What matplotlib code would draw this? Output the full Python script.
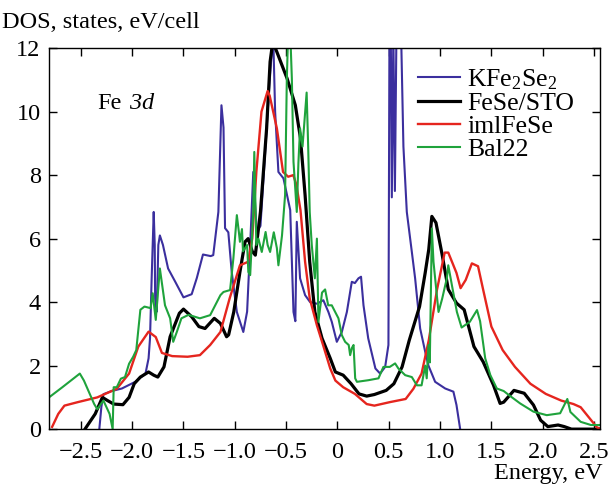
import matplotlib
matplotlib.use('Agg')
import matplotlib.pyplot as plt

plt.rcParams['font.family'] = ['Liberation Serif', 'DejaVu Serif']
plt.rcParams['mathtext.fontset'] = 'custom'
plt.rcParams['mathtext.rm'] = 'Liberation Serif'
plt.rcParams['mathtext.it'] = 'Liberation Serif:italic'

# KFe2Se2 (blue)
kfe_x = [-2.32, -2.30, -2.28, -2.20, -2.10, -1.97, -1.87, -1.84, -1.826, -1.81, -1.79, -1.78,
         -1.776, -1.76, -1.745, -1.73, -1.70, -1.65, -1.58, -1.50, -1.42, -1.37, -1.31, -1.235,
         -1.21, -1.16, -1.13, -1.11, -1.095, -1.063, -1.03, -0.98, -0.917, -0.88, -0.85, -0.82,
         -0.786, -0.75, -0.72, -0.67, -0.64, -0.625, -0.607, -0.575, -0.526, -0.46, -0.428, -0.41,
         -0.396, -0.364, -0.315, -0.266, -0.20, -0.137, -0.088, -0.055, -0.006, 0.043, 0.092, 0.14,
         0.17, 0.205, 0.23, 0.254, 0.30, 0.37, 0.416, 0.465, 0.497, 0.507, 0.52, 0.53, 0.545, 0.56,
         0.575, 0.62, 0.643, 0.676, 0.725, 0.757, 0.806, 0.855, 0.887, 0.952, 1.05, 1.13, 1.16, 1.196]
kfe_y = [0.0, 0.7, 1.1, 1.2, 1.28, 1.49, 1.75, 2.23, 2.86, 4.75, 6.84, 5.8,
         4.1, 3.7, 5.8, 6.1, 5.8, 5.06, 4.64, 4.15, 4.25, 4.76, 5.5, 5.45,
         5.48, 6.84, 10.2, 9.5, 6.33, 6.2, 4.95, 3.69, 3.06, 3.7, 5.8, 8.1,
         6.21, 6.4, 7.9, 10.5, 11.88, 12.3, 10.0, 8.1, 7.9, 6.9, 3.69, 3.4,
         6.53, 4.75, 4.22, 4.0, 3.95, 4.06, 3.69, 3.38, 2.75, 3.06, 3.69, 4.64,
         4.6, 4.75, 4.8, 3.9, 2.86, 1.91, 1.75, 1.96, 2.65, 12.5, 12.5, 7.3, 12.5, 7.5,
         12.5, 12.5, 8.9, 6.84, 5.58, 4.75, 3.17, 2.44, 2.0, 1.49, 1.28, 1.18, 0.76, 0.0]

# FeSe/STO (black)
sto_x = [-2.46, -2.36, -2.29, -2.24, -2.18, -2.09, -2.03, -1.98, -1.92, -1.84, -1.79, -1.75,
         -1.69, -1.63, -1.54, -1.50, -1.42, -1.35, -1.29, -1.20, -1.14, -1.08, -1.06, -1.01,
         -0.95, -0.90, -0.87, -0.83, -0.80, -0.75, -0.69, -0.656, -0.63, -0.59, -0.49, -0.41,
         -0.36, -0.315, -0.27, -0.22, -0.15, -0.07, -0.02, 0.056, 0.133, 0.21, 0.285, 0.36,
         0.475, 0.55, 0.63, 0.70, 0.80, 0.855, 0.89, 0.92, 0.96, 1.02, 1.08, 1.16, 1.235, 1.33,
         1.42, 1.52, 1.585, 1.62, 1.72, 1.82, 1.91, 1.98, 2.05, 2.15, 2.21, 2.28, 2.56]
sto_y = [0.0, 0.48, 1.0, 0.9, 0.79, 0.77, 1.0, 1.43, 1.64, 1.8, 1.7, 1.64,
         1.96, 2.91, 3.65, 3.78, 3.54, 3.23, 3.17, 3.49, 3.33, 2.91, 2.97, 3.69,
         4.95, 5.9, 6.0, 5.6, 5.48, 6.84, 9.47, 11.57, 12.2, 11.88, 11.04, 10.2,
         9.16, 7.37, 5.27, 3.69, 2.86, 2.23, 1.8, 1.7, 1.43, 1.11, 1.04, 1.09,
         1.22, 1.43, 1.96, 2.8, 3.86, 4.92, 5.66, 6.7, 6.5, 5.5, 4.4, 3.97, 3.76, 2.6,
         2.12, 1.39, 0.81, 0.85, 1.22, 1.13, 0.76, 0.28, 0.08, 0.13, 0.08, 0.0, 0.0]

# imlFeSe (red)
iml_x = [-2.78, -2.72, -2.66, -2.53, -2.34, -2.15, -2.03, -1.94, -1.84, -1.77, -1.71, -1.61,
         -1.46, -1.34, -1.24, -1.14, -1.05, -0.95, -0.87, -0.83, -0.79, -0.74, -0.68, -0.66,
         -0.59, -0.53, -0.48, -0.43, -0.40, -0.36, -0.315, -0.27, -0.20, -0.14, -0.07, -0.02,
         0.056, 0.17, 0.285, 0.36, 0.51, 0.665, 0.74, 0.82, 0.89, 0.97, 1.045, 1.08, 1.16, 1.20,
         1.25, 1.31, 1.37, 1.42, 1.50, 1.61, 1.73, 1.88, 2.03, 2.18, 2.30, 2.37, 2.45, 2.53, 2.58]
iml_y = [0.07, 0.48, 0.74, 0.85, 1.0, 1.27, 1.75, 2.6, 3.07, 2.9, 2.4, 2.3,
         2.28, 2.33, 2.65, 3.06, 4.12, 5.16, 5.27, 6.0, 8.1, 10.0, 10.65, 10.5,
         9.47, 8.1, 7.95, 8.0, 7.7, 6.9, 5.27, 4.12, 3.27, 2.65, 1.91, 1.53,
         1.32, 1.11, 0.79, 0.74, 0.85, 0.95, 1.27, 1.75, 2.8, 4.39, 5.56, 5.56, 4.92, 4.44,
         4.7, 5.22, 5.13, 4.39, 3.23, 2.49, 1.96, 1.43, 1.11, 0.9, 0.79, 0.69, 0.37, 0.05, 0.0]

# Bal22 (green)
bal_x = [-2.81, -2.68, -2.51, -2.47, -2.37, -2.34, -2.28, -2.22, -2.19, -2.18, -2.15, -2.11,
         -2.07, -2.03, -1.99, -1.96, -1.92, -1.88, -1.82, -1.80, -1.77, -1.73, -1.68, -1.63,
         -1.60, -1.565, -1.52, -1.45, -1.34, -1.24, -1.14, -1.11, -1.046, -1.014, -0.98, -0.96,
         -0.95, -0.93, -0.92, -0.88, -0.868, -0.85, -0.82, -0.81, -0.79, -0.77, -0.737, -0.70,
         -0.68, -0.656, -0.62, -0.59, -0.575, -0.54, -0.51, -0.493, -0.48, -0.46, -0.444, -0.428,
         -0.396, -0.38, -0.364, -0.34, -0.30, -0.285, -0.27, -0.25, -0.22, -0.20, -0.185, -0.15,
         -0.12, -0.09, -0.055, -0.022, 0.01, 0.043, 0.075, 0.11, 0.124, 0.14, 0.157, 0.173,
         0.19, 0.30, 0.40, 0.448, 0.51, 0.562, 0.594, 0.66, 0.725, 0.774, 0.82, 0.855,
         0.87, 0.887, 0.90, 0.92, 0.936, 0.952, 0.985, 1.02, 1.066, 1.08, 1.115, 1.164,
         1.21, 1.29, 1.36, 1.39, 1.44, 1.49, 1.553, 1.62, 1.68, 1.78, 1.91, 2.04,
         2.17, 2.24, 2.27, 2.37, 2.47, 2.56]
bal_y = [1.0, 1.32, 1.75, 1.53, 0.79, 0.63, 0.9, 0.48, 0.0, 1.32, 1.32, 1.59,
         1.64, 2.06, 2.28, 2.49, 3.76, 3.86, 3.81, 4.28, 3.44, 5.06, 3.9, 3.49,
         2.75, 3.06, 3.49, 3.6, 3.49, 3.59, 4.22, 4.32, 4.38, 5.37, 6.74, 6.2,
         5.9, 6.3, 5.6, 5.8, 4.95, 4.85, 6.84, 8.73, 5.8, 6.0, 5.58, 6.21,
         5.8, 5.58, 6.2, 5.7, 5.16, 6.1, 7.37, 11.04, 12.5, 12.5, 11.04, 8.42,
         6.84, 8.4, 9.47, 8.9, 10.6, 8.9, 6.84, 5.8, 4.75, 6.0, 3.38, 4.3,
         4.4, 3.9, 3.9, 3.69, 3.49, 2.96, 2.75, 2.65, 2.33, 2.55, 2.65, 1.6,
         1.49, 1.54, 1.6, 1.96, 1.96, 2.07, 1.91, 1.7, 1.64, 1.38, 1.38, 2.0,
         1.6, 2.65, 2.1, 6.32, 5.27, 4.75, 3.69, 4.1, 4.75, 5.16, 4.54, 3.69,
         3.2, 3.38, 3.75, 3.4, 2.23, 1.7, 1.28, 1.2, 1.05, 0.81, 0.55, 0.44,
         0.5, 0.95, 0.54, 0.23, 0.13, 0.13]

x_ticks = [-2.5, -2.0, -1.5, -1.0, -0.5, 0, 0.5, 1.0, 1.5, 2.0, 2.5]
x_tick_labels = ['\u22122.5', '\u22122.0', '\u22121.5', '\u22121.0', '\u22120.5', '0',
                 '0.5', '1.0', '1.5', '2.0', '2.5']
y_ticks = [0, 2, 4, 6, 8, 10, 12]

fig = plt.figure(figsize=(6.09, 4.91), dpi=100)
ax = fig.add_axes([0.0805, 0.126, 0.905, 0.776])

ax.plot(kfe_x, kfe_y, color='#3b2f9e', lw=1.5, label='KFe$_2$Se$_2$')
ax.plot(sto_x, sto_y, color='black', lw=2.3, label='FeSe/STO')
ax.plot(iml_x, iml_y, color='#e5251e', lw=1.7, label='imlFeSe')
ax.plot(bal_x, bal_y, color='#1fa33c', lw=1.5, label='Bal22')

ax.set_xlim(-2.81, 2.56)
ax.set_ylim(0, 12)
ax.set_xticks(x_ticks)
ax.set_xticklabels(x_tick_labels)
ax.set_yticks(y_ticks)
ax.tick_params(direction='in', top=True, right=True, length=6, width=1,
               labelsize=17.5)
ax.tick_params(axis='x', pad=9)
ax.tick_params(axis='y', pad=6)
for s in ax.spines.values():
    s.set_linewidth(1)

ax.text(-2.34, 10.27, 'Fe', fontsize=17.5, ha='left', va='center')
ax.text(-2.03, 10.27, '3$d$', fontsize=17.5, ha='left', va='center', style='italic')

fig.text(0.003, 0.955, 'DOS, states, eV/cell', fontsize=17.5, ha='left', va='center')
fig.text(0.99, 0.036, 'Energy, eV', fontsize=17.5, ha='right', va='center')

ax.legend(loc='upper left', bbox_to_anchor=(0.67, 0.95), frameon=False,
          fontsize=18.5, handlelength=1.63, handletextpad=0.27, labelspacing=0.0,
          borderpad=0, borderaxespad=0)

fig.savefig('out.png', dpi=100)
